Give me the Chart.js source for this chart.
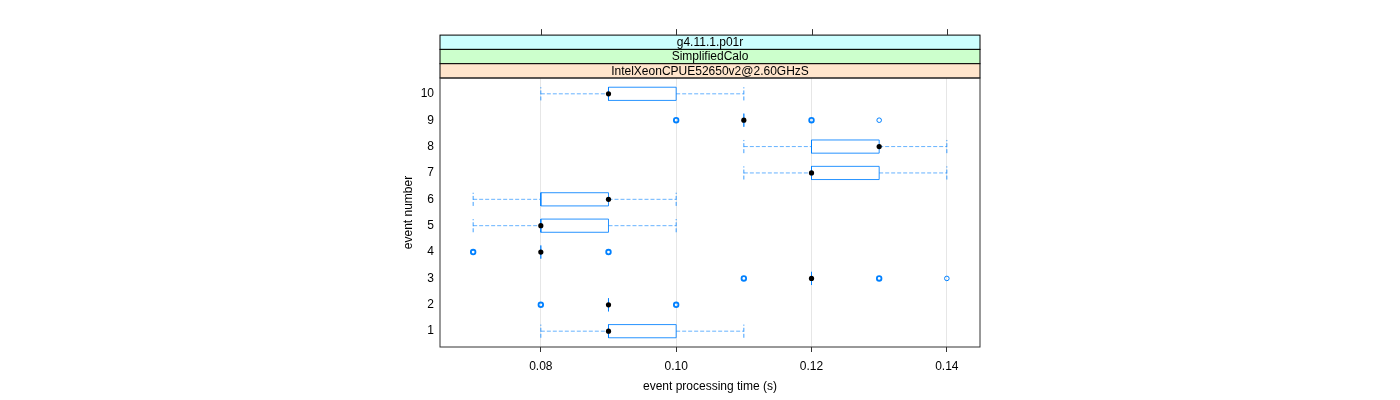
<!DOCTYPE html>
<html>
<head>
<meta charset="utf-8">
<script src="https://cdn.jsdelivr.net/npm/chart.js@4.4.1/dist/chart.umd.min.js"></script>
<style>
    html, body { margin: 0; padding: 0; background: #fff; }
    #wrap { width: 1400px; height: 400px; }
</style>
</head>
<body>
<div id="wrap"><canvas id="bwChart" width="1400" height="400"></canvas></div>
<script>
// event processing time per event
const events   = [1, 2, 3, 4, 5, 6, 7, 8, 9, 10];
const whiskLo  = [0.08, 0.09, 0.12, 0.08, 0.07, 0.07, 0.11, 0.11, 0.11, 0.08];
const q1       = [0.09, 0.09, 0.12, 0.08, 0.08, 0.08, 0.12, 0.12, 0.11, 0.09];
const medians  = [0.09, 0.09, 0.12, 0.08, 0.08, 0.09, 0.12, 0.13, 0.11, 0.09];
const q3       = [0.10, 0.09, 0.12, 0.08, 0.09, 0.09, 0.13, 0.13, 0.11, 0.10];
const whiskHi  = [0.11, 0.09, 0.12, 0.08, 0.10, 0.10, 0.14, 0.14, 0.11, 0.11];
const outliers = [[], [0.08, 0.10], [0.11, 0.13, 0.14], [0.07, 0.09], [], [], [], [], [0.10, 0.12, 0.13], []];
// how many runs sit on each outlier (overplotted ones look bolder)
const outlierCounts = [[], [2, 2], [2, 2, 1], [2, 2], [], [], [], [], [2, 2, 1], []];

const xTicks = [0.08, 0.10, 0.12, 0.14];
const stripLabels = ['g4.11.1.p01r', 'SimplifiedCalo', 'IntelXeonCPUE52650v2@2.60GHzS'];
const stripColors = ['#ccffff', '#ccffcc', '#ffe5cc'];

const BLUE = '#0080ff';
const BOX_HALF = 0.25;
const GAP = { x: null, y: null };

Chart.defaults.font.family = '"Liberation Sans", Arial, Helvetica, sans-serif';
Chart.defaults.font.size = 12;
Chart.defaults.color = '#000';

// build the box-and-whisker pieces
const boxPts = [], whiskerPts = [], capPts = [], outPts = [], outWidths = [];
events.forEach((ev, i) => {
    boxPts.push(
        { x: q1[i], y: ev - BOX_HALF }, { x: q3[i], y: ev - BOX_HALF },
        { x: q3[i], y: ev + BOX_HALF }, { x: q1[i], y: ev + BOX_HALF },
        { x: q1[i], y: ev - BOX_HALF }, GAP
    );
    if (whiskLo[i] < q1[i]) {
        whiskerPts.push({ x: whiskLo[i], y: ev }, { x: q1[i], y: ev }, GAP);
        capPts.push({ x: whiskLo[i], y: ev - BOX_HALF }, { x: whiskLo[i], y: ev + BOX_HALF }, GAP);
    }
    if (whiskHi[i] > q3[i]) {
        whiskerPts.push({ x: q3[i], y: ev }, { x: whiskHi[i], y: ev }, GAP);
        capPts.push({ x: whiskHi[i], y: ev - BOX_HALF }, { x: whiskHi[i], y: ev + BOX_HALF }, GAP);
    }
    outliers[i].forEach((v, j) => {
        outPts.push({ x: v, y: ev });
        outWidths.push(outlierCounts[i][j] > 1 ? 1.8 : 1);
    });
});

// strips + panel frame + top ticks, lattice style
const latticeFrame = {
    id: 'latticeFrame',
    afterDraw(chart) {
        const { ctx, chartArea: a, scales } = chart;
        const stripH = 14.3;
        ctx.save();
        ctx.lineWidth = 1;
        ctx.strokeStyle = '#000';
        ctx.font = '12px "Liberation Sans", Arial, sans-serif';
        ctx.textAlign = 'center';
        ctx.textBaseline = 'middle';
        stripLabels.forEach((lab, k) => {
            const y0 = a.top - stripH * (stripLabels.length - k);
            ctx.fillStyle = stripColors[k];
            ctx.fillRect(a.left, y0, a.right - a.left, stripH);
            ctx.strokeRect(a.left, y0, a.right - a.left, stripH);
            ctx.fillStyle = '#000';
            ctx.fillText(lab, (a.left + a.right) / 2, y0 + stripH / 2 + 0.5);
        });
        const stripTop = a.top - stripH * stripLabels.length;
        ctx.strokeStyle = '#333';
        xTicks.forEach(v => {
            const px = Math.round(scales.x.getPixelForValue(v)) + 0.5;
            ctx.beginPath();
            ctx.moveTo(px, stripTop);
            ctx.lineTo(px, stripTop - 6);
            ctx.stroke();
        });
        ctx.strokeRect(a.left, a.top, a.right - a.left, a.bottom - a.top);
        ctx.restore();
    }
};

new Chart(document.getElementById('bwChart'), {
    type: 'scatter',
    data: {
        datasets: [
            {
                label: 'median', data: events.map((ev, i) => ({ x: medians[i], y: ev })),
                pointRadius: 2.6, pointBackgroundColor: '#000', pointBorderColor: '#000', pointBorderWidth: 0, order: 0
            },
            {
                label: 'outliers', data: outPts,
                pointRadius: 2.3, pointBackgroundColor: 'rgba(0,0,0,0)', pointBorderColor: BLUE,
                pointBorderWidth: outWidths, order: 1
            },
            {
                label: 'box', data: boxPts, showLine: true, spanGaps: false,
                borderColor: 'rgba(0,128,255,0.85)', borderWidth: 1, pointRadius: 0, order: 2
            },
            {
                label: 'whiskers', data: whiskerPts, showLine: true, spanGaps: false,
                borderColor: 'rgba(0,128,255,0.6)', borderWidth: 1, borderDash: [4, 2], pointRadius: 0, order: 3
            },
            {
                label: 'caps', data: capPts, showLine: true, spanGaps: false,
                borderColor: 'rgba(0,128,255,0.75)', borderWidth: 1, borderDash: [4, 2], pointRadius: 0, order: 4
            }
        ]
    },
    options: {
        responsive: false,
        animation: false,
        devicePixelRatio: 1,
        layout: { padding: { left: 395, right: 420, top: 78, bottom: 0 } },
        plugins: { legend: { display: false }, tooltip: { enabled: false } },
        scales: {
            x: {
                type: 'linear', min: 0.0651, max: 0.1449,
                afterBuildTicks: s => { s.ticks = xTicks.map(v => ({ value: v })); },
                afterFit: s => { s.height = 53; },
                ticks: { callback: v => v.toFixed(2), padding: 7, maxRotation: 0 },
                grid: { color: '#e6e6e6', tickColor: '#333', tickLength: 5 },
                border: { display: false },
                title: { display: true, text: 'event processing time (s)', padding: { top: 4, bottom: 6 } }
            },
            y: {
                type: 'linear', min: 0.4, max: 10.6,
                afterBuildTicks: s => { s.ticks = events.map(v => ({ value: v })); },
                afterFit: s => { s.width = 45; },
                ticks: { padding: 6 },
                grid: { display: false, drawTicks: false },
                border: { display: false },
                title: { display: true, text: 'event number', padding: { top: 6, bottom: 0 } }
            }
        }
    },
    plugins: [latticeFrame]
});
</script>
</body>
</html>
